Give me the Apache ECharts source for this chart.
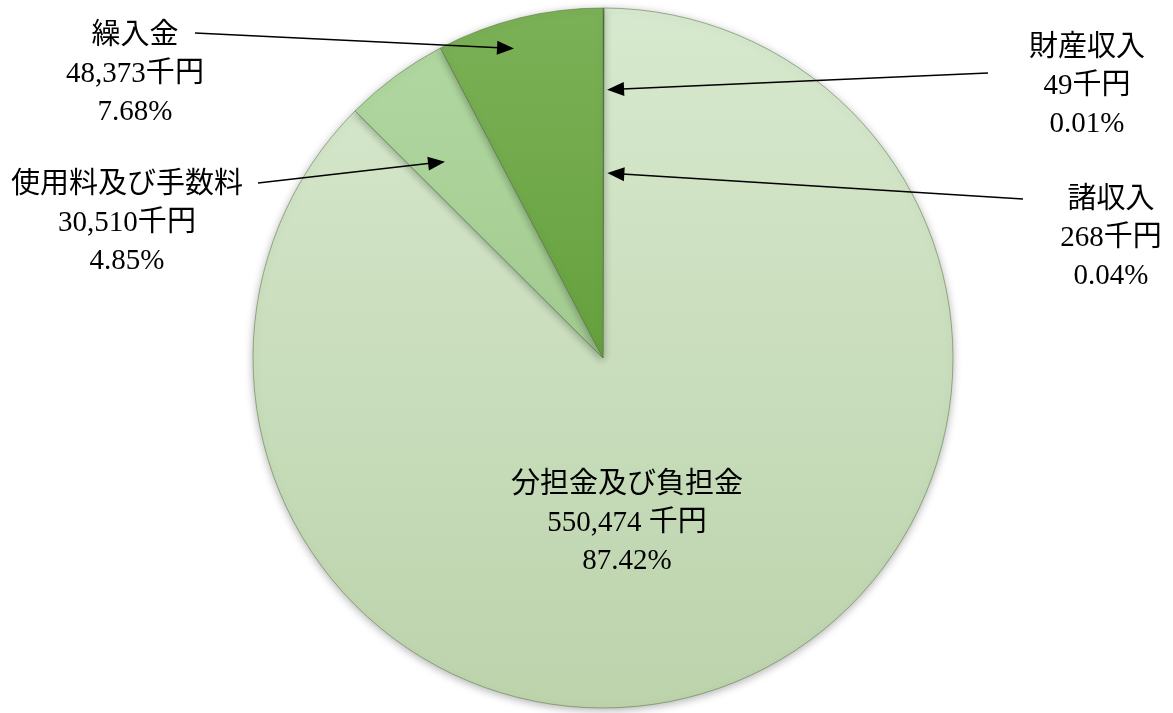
<!DOCTYPE html>
<html>
<head>
<meta charset="utf-8">
<script src="https://cdn.jsdelivr.net/npm/echarts@6/dist/echarts.min.js"></script>
<style>
  html, body { margin: 0; padding: 0; background: #fff; }
  #main { width: 1173px; height: 713px; }
</style>
</head>
<body>
<div id="main"></div>
<script>
// 区分(12時から時計回り)
var categories = ['財産収入', '諸収入', '分担金及び負担金', '使用料及び手数料', '繰入金'];
// 金額(千円)
var amounts = [49, 268, 550474, 30510, 48373];
// 「千円」の前に空白が入る区分
var spacedUnit = ['分担金及び負担金'];

// 色 上→下
var topColors = ['#5c9838', '#66a242', '#d7e9ce', '#b1d7a0', '#7bb157'];
var bottomColors = ['#4b872b', '#559236', '#bcd3ac', '#a2cb90', '#66a13d'];
// ラベルの中心位置
var labelPos = [[1087, 86], [1111, 238], [627, 523], [127, 223], [135, 74]];
// 矢印: ラベル側の始点, 扇形内の角度割合, 半径割合, 先端の隙間
var arrows = [
  { idx: 0, from: [988, 73], angleFrac: 0.5, rFrac: 0.766, gap: 4 },
  { idx: 1, from: [1023, 199], angleFrac: 0.5, rFrac: 0.529, gap: 4 },
  { idx: 3, from: [258, 183], angleFrac: 0.36, rFrac: 0.72, gap: 0 },
  { idx: 4, from: [195, 33], angleFrac: 0.42, rFrac: 0.92, gap: 0 }
];

var fontFam = "'Liberation Serif', 'Noto Sans CJK JP', serif";
var chart = echarts.init(document.getElementById('main'));

var pieData = categories.map(function (name, i) {
  return {
    name: name,
    value: amounts[i],
    itemStyle: {
      color: new echarts.graphic.LinearGradient(0, 0, 0, 1, [
        { offset: 0, color: topColors[i] },
        { offset: 1, color: bottomColors[i] }
      ])
    }
  };
});

chart.setOption({
  backgroundColor: '#fff',
  animation: false,
  series: [
    {
      type: 'pie',
      center: [603, 358],
      radius: 350,
      startAngle: 90,
      clockwise: true,
      avoidLabelOverlap: false,
      percentPrecision: 2,
      itemStyle: {
        borderColor: 'rgba(90,120,70,0.55)',
        borderWidth: 1,
        shadowBlur: 8,
        shadowOffsetY: 2,
        shadowColor: 'rgba(0,0,0,0.3)'
      },
      label: {
        show: true,
        position: 'outside',
        color: '#000',
        fontSize: 29,
        lineHeight: 38,
        fontFamily: fontFam,
        align: 'center',
        formatter: function (p) {
          var sep = spacedUnit.indexOf(p.name) >= 0 ? ' ' : '';
          return p.name + '\n' + echarts.format.addCommas(p.value) + sep + '千円\n' + p.percent.toFixed(2) + '%';
        }
      },
      labelLine: { show: false },
      labelLayout: function (params) {
        var pos = labelPos[params.dataIndex];
        return { x: pos[0], y: pos[1], align: 'center', verticalAlign: 'middle' };
      },
      emphasis: { disabled: true },
      data: pieData
    }
  ]
});

// 矢印を扇形のレイアウトから描く
var seriesData = chart.getModel().getSeriesByIndex(0).getData();
var graphics = [];
arrows.forEach(function (a) {
  var lay = seriesData.getItemLayout(a.idx);
  var ang = lay.startAngle + a.angleFrac * (lay.endAngle - lay.startAngle);
  var tx = lay.cx + lay.r * a.rFrac * Math.cos(ang);
  var ty = lay.cy + lay.r * a.rFrac * Math.sin(ang);
  var dx = tx - a.from[0], dy = ty - a.from[1];
  var len = Math.sqrt(dx * dx + dy * dy);
  var ux = dx / len, uy = dy / len;
  tx -= ux * a.gap; ty -= uy * a.gap;
  var headLen = 17, headW = 7;
  var bx = tx - ux * headLen, by = ty - uy * headLen;
  graphics.push({
    type: 'line',
    silent: true,
    z: 100,
    shape: { x1: a.from[0], y1: a.from[1], x2: bx + ux * 2, y2: by + uy * 2 },
    style: { stroke: '#000', lineWidth: 1.5 }
  });
  graphics.push({
    type: 'polygon',
    silent: true,
    z: 100,
    shape: { points: [[tx, ty], [bx - uy * headW, by + ux * headW], [bx + uy * headW, by - ux * headW]] },
    style: { fill: '#000' }
  });
});
chart.setOption({ graphic: graphics });
</script>
</body>
</html>
